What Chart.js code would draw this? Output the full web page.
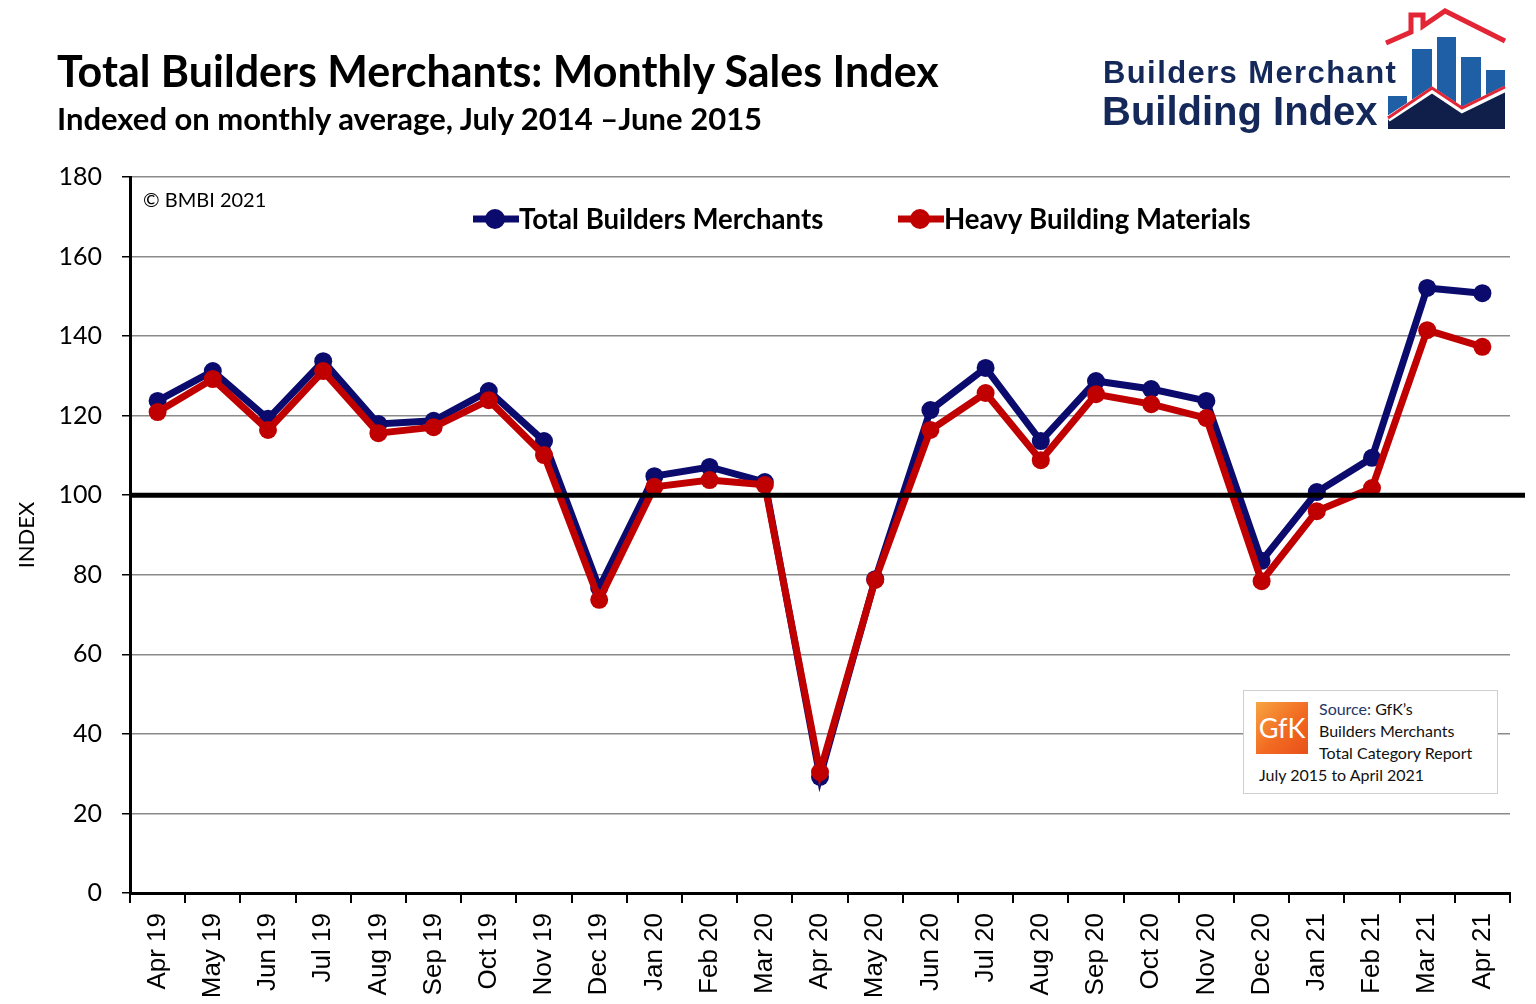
<!DOCTYPE html>
<html>
<head>
<meta charset="utf-8">
<title>Total Builders Merchants: Monthly Sales Index</title>
<script src="https://cdn.jsdelivr.net/npm/chart.js@4.4.1/dist/chart.umd.min.js"></script>
<style>
  html, body { margin: 0; padding: 0; background: #fff; }
  #wrap { position: relative; width: 1536px; height: 1004px; overflow: hidden; }
  #chart { position: absolute; left: 0; top: 0; }
  .title { position: absolute; left: 57px; top: 45px; font: bold 43px Lato, sans-serif; color: #000; white-space: nowrap; }
  .subtitle { position: absolute; left: 57px; top: 99px; font: bold 31px Lato, sans-serif; color: #000; white-space: nowrap; }
  .logo1 { position: absolute; left: 1103px; top: 55px; font: bold 31px "Liberation Sans", Arial, sans-serif; letter-spacing: 1.4px; color: #14285a; white-space: nowrap; }
  .logo2 { position: absolute; left: 1102px; top: 89px; font: bold 40px "Liberation Sans", Arial, sans-serif; color: #14285a; white-space: nowrap; }
  #logoGfx { position: absolute; left: 1380px; top: 5px; }
  .copy { position: absolute; left: 143px; top: 187px; font: 20px Lato, sans-serif; color: #000; }
  .source { position: absolute; left: 1243px; top: 690px; width: 253px; height: 102px; background: #fff; border: 1px solid #cfcfcf; }
  .gfk { position: absolute; left: 12px; top: 11px; width: 52px; height: 52px;
         background: linear-gradient(135deg, #f7a541 0%, #f26a21 55%, #e8501a 100%);
         color: #fff; font: 27px Lato, sans-serif; text-align: center; line-height: 52px; }
  .src { position: absolute; font: 16px Lato, sans-serif; color: #111; white-space: nowrap; }
</style>
</head>
<body>
<div id="wrap">
  <canvas id="chart" width="1536" height="1004"></canvas>
  <div class="title">Total Builders Merchants: Monthly Sales Index</div>
  <div class="subtitle">Indexed on monthly average, July 2014 –June 2015</div>
  <div class="logo1">Builders Merchant</div>
  <div class="logo2">Building Index</div>
  <svg id="logoGfx" width="130" height="130" viewBox="1380 5 130 130">
    <rect x="1388" y="96" width="19" height="33" fill="#1f5fa5"/>
    <rect x="1412" y="49" width="20" height="80" fill="#1f5fa5"/>
    <rect x="1437" y="37" width="19" height="92" fill="#1f5fa5"/>
    <rect x="1461" y="57" width="20" height="72" fill="#1f5fa5"/>
    <rect x="1486" y="70" width="19" height="59" fill="#1f5fa5"/>
    <polygon points="1388,119 1432,90 1462,110 1505,89 1505,129 1388,129" fill="#0f1f4a"/>
    <polyline points="1388,119 1432,90 1462,110 1505,89" fill="none" stroke="#fff" stroke-width="6"/>
    <polyline points="1388,118 1432,88 1462,108 1505,87" fill="none" stroke="#e32636" stroke-width="3"/>
    <polyline points="1386,43 1411,32 1411,15 1423,15 1423,26 1445,11 1505,41" fill="none" stroke="#e32636" stroke-width="5"/>
  </svg>
  <div class="copy">© BMBI 2021</div>
  <div class="source">
    <div class="gfk">GfK</div>
    <div class="src" style="left:75px; top:8px;"><span style="color:#1f3864">Source:</span> GfK’s</div>
    <div class="src" style="left:75px; top:30px;">Builders Merchants</div>
    <div class="src" style="left:75px; top:52px;">Total Category Report</div>
    <div class="src" style="left:15px; top:74px;">July 2015 to April 2021</div>
  </div>
</div>
<script>
// months shown on the x axis
const months = ['Apr 19', 'May 19', 'Jun 19', 'Jul 19', 'Aug 19', 'Sep 19', 'Oct 19', 'Nov 19', 'Dec 19',
    'Jan 20', 'Feb 20', 'Mar 20', 'Apr 20', 'May 20', 'Jun 20', 'Jul 20', 'Aug 20', 'Sep 20', 'Oct 20',
    'Nov 20', 'Dec 20', 'Jan 21', 'Feb 21', 'Mar 21', 'Apr 21'];

// index values
const totalMerchants = [123.7, 131.2, 119.2, 133.7, 117.9, 118.7, 126.2, 113.6, 76.7,
    104.8, 107.1, 103.3, 29.2, 78.9, 121.4, 132.0, 113.6, 128.7, 126.7,
    123.7, 83.5, 100.8, 109.4, 152.1, 150.8];
const heavyMaterials = [120.9, 129.2, 116.4, 131.2, 115.6, 117.1, 123.9, 110.1, 73.7,
    102.1, 103.8, 102.6, 30.4, 78.7, 116.4, 125.7, 108.8, 125.4, 122.9,
    119.4, 78.4, 96.0, 101.8, 141.5, 137.3];

const yTicks = [0, 20, 40, 60, 80, 100, 120, 140, 160, 180];
const baseline = 100;

const NAVY = '#0b0b6e';
const RED = '#c00000';

// thick black line at the index base of 100
const baselinePlugin = {
    id: 'baseline',
    afterDatasetsDraw(chart) {
        const y = chart.scales.y.getPixelForValue(baseline);
        const ctx = chart.ctx;
        ctx.save();
        ctx.strokeStyle = '#000';
        ctx.lineWidth = 5;
        ctx.beginPath();
        ctx.moveTo(chart.chartArea.left, y);
        ctx.lineTo(chart.chartArea.right + 15, y);
        ctx.stroke();
        ctx.restore();
    }
};

// legend inside the plot, like the excel one
const insideLegend = {
    id: 'insideLegend',
    afterDraw(chart, args, opts) {
        const ctx = chart.ctx;
        ctx.save();
        chart.data.datasets.forEach((ds, i) => {
            const x = opts.xs[i];
            const y = opts.y;
            ctx.strokeStyle = ds.borderColor;
            ctx.lineWidth = 7;
            ctx.beginPath();
            ctx.moveTo(x, y);
            ctx.lineTo(x + 46, y);
            ctx.stroke();
            ctx.fillStyle = ds.borderColor;
            ctx.beginPath();
            ctx.arc(x + 22, y, 10, 0, Math.PI * 2);
            ctx.fill();
            ctx.fillStyle = '#000';
            ctx.font = 'bold 27.6px Lato, sans-serif';
            ctx.textBaseline = 'middle';
            ctx.fillText(ds.label, x + 46, y + 1);
        });
        ctx.restore();
    }
};

new Chart(document.getElementById('chart'), {
    type: 'line',
    data: {
        labels: months,
        datasets: [{
            label: 'Total Builders Merchants',
            data: totalMerchants,
            borderColor: NAVY,
            backgroundColor: NAVY,
            borderWidth: 7,
            pointRadius: 9,
            pointBorderWidth: 0,
            tension: 0,
            order: 2
        }, {
            label: 'Heavy Building Materials',
            data: heavyMaterials,
            borderColor: RED,
            backgroundColor: RED,
            borderWidth: 7,
            pointRadius: 9,
            pointBorderWidth: 0,
            tension: 0,
            order: 1
        }]
    },
    options: {
        responsive: false,
        animation: false,
        events: [],
        layout: { padding: { top: 177, right: 26, left: 0, bottom: 0 } },
        plugins: {
            legend: { display: false },
            tooltip: { enabled: false },
            insideLegend: { xs: [473, 898], y: 219 }
        },
        scales: {
            x: {
                offset: true,
                grid: {
                    display: true,
                    drawOnChartArea: false,
                    offset: true,
                    color: '#000',
                    lineWidth: 2,
                    tickLength: 10
                },
                border: { color: '#000', width: 3 },
                ticks: {
                    autoSkip: false,
                    maxRotation: 90,
                    minRotation: 90,
                    padding: 10,
                    color: '#000',
                    font: { family: '"Liberation Sans", Arial, sans-serif', size: 26 }
                },
                afterFit(scale) { scale.height = 111; }
            },
            y: {
                min: 0,
                max: 180,
                afterBuildTicks(scale) { scale.ticks = yTicks.map(v => ({ value: v })); },
                grid: {
                    color: '#8a8a8a',
                    lineWidth: 1.5,
                    tickColor: '#000',
                    tickLength: 8
                },
                border: { color: '#000', width: 3 },
                ticks: {
                    padding: 20,
                    color: '#000',
                    font: { family: 'Lato, sans-serif', size: 25 }
                },
                title: {
                    display: true,
                    text: 'INDEX',
                    color: '#000',
                    padding: { top: 14, bottom: 0 },
                    font: { family: 'Lato, sans-serif', size: 22 }
                },
                afterFit(scale) { scale.width = 130; }
            }
        }
    },
    plugins: [baselinePlugin, insideLegend]
});
</script>
</body>
</html>
